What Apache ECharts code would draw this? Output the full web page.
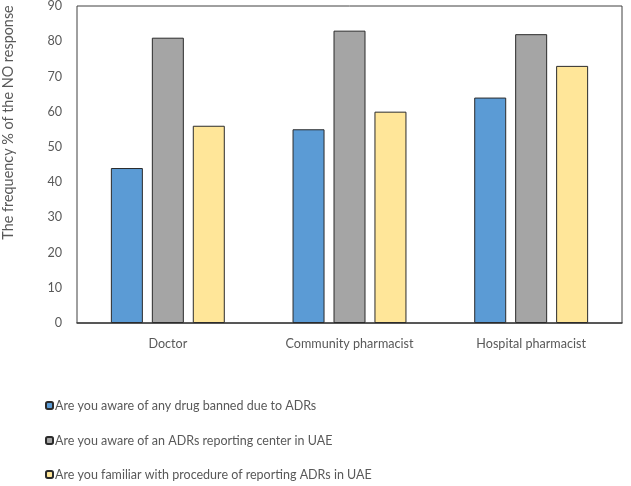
<!DOCTYPE html>
<html><head><meta charset="utf-8">
<script src="https://cdn.jsdelivr.net/npm/echarts@6/dist/echarts.min.js"></script>
<style>html,body{margin:0;padding:0;background:#fff}#c{width:631px;height:486px}</style>
</head><body><div id="c"></div>
<script>
const categories = ["Doctor", "Community pharmacist", "Hospital pharmacist"];
const seriesNames = [
  "Are you aware of any drug banned due to ADRs",
  "Are you aware of an ADRs reporting center in UAE",
  "Are you familiar with procedure of reporting ADRs in UAE"
];
const bannedDrug = [44, 55, 64];
const reportingCenter = [81, 83, 82];
const procedure = [56, 60, 73];
const colors = ["#5b9bd5", "#a5a5a5", "#ffe699"];
const yTitle = "The frequency % of the NO response";

const chart = echarts.init(document.getElementById('c'));
const font = "Lato";
const fs = 12.6;
const txt = "#595959";
const values = [bannedDrug, reportingCenter, procedure];
const legendTops = [394, 429, 463];
chart.setOption({
  animation: false,
  grid: { left: 77, right: 9, top: 6, bottom: 163, show: true, borderColor: "#404040", borderWidth: 1, containLabel: false, outerBoundsMode: "none" },
  legend: seriesNames.map((n, i) => ({
    orient: "vertical", left: 40, top: legendTops[i],
    itemWidth: 7, itemHeight: 7,
    textStyle: { fontFamily: font, fontSize: 12.5, color: txt, padding: [0,0,0,-3] },
    data: [n]
  })),
  xAxis: {
    type: "category", data: categories,
    axisLine: { lineStyle: { color: "#404040", width: 1.5 } },
    axisTick: { show: false },
    axisLabel: { fontFamily: font, fontSize: fs, color: txt, margin: 14, interval: 0 }
  },
  yAxis: {
    type: "value", min: 0, max: 90, interval: 10,
    name: yTitle, nameLocation: "middle", nameGap: 62,
    nameTextStyle: { fontFamily: font, fontSize: 14.4, color: txt, padding: [0, 0, 0, 84] },
    splitLine: { show: false },
    axisLine: { show: false }, axisTick: { show: false },
    axisLabel: { fontFamily: font, fontSize: fs, color: txt, margin: 15 }
  },
  series: seriesNames.map((n, i) => ({
    name: n, type: "bar", data: values[i],
    barWidth: 32, barGap: "28%",
    itemStyle: { color: colors[i], borderColor: "#2b2b2b", borderWidth: 1 }
  }))
});
</script></body></html>
